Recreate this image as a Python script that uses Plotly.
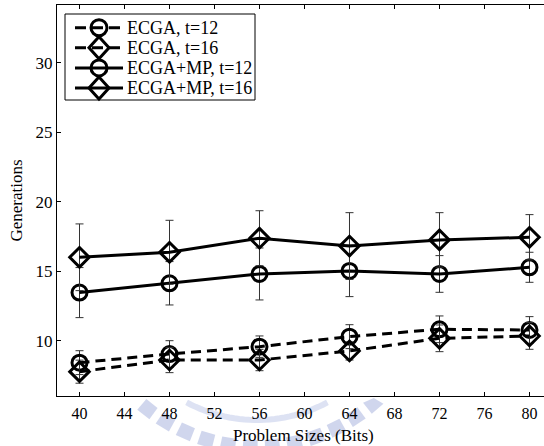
import numpy as np
import plotly.graph_objects as go

# Problem sizes (bits)
sizes = [40, 48, 56, 64, 72, 80]

# Mean generations and error half-widths per configuration
ecga_t12 = [8.44, 9.06, 9.59, 10.31, 10.84, 10.79]
ecga_t12_err = [0.86, 0.96, 0.77, 0.86, 0.96, 0.96]

ecga_t16 = [7.79, 8.63, 8.63, 9.28, 10.19, 10.36]
ecga_t16_err = [0.83, 0.91, 0.77, 0.65, 0.96, 0.96]

mp_t12 = [13.48, 14.15, 14.82, 15.04, 14.82, 15.3]
mp_t12_err = [1.8, 1.56, 1.87, 1.85, 1.32, 1.08]

mp_t16 = [16.02, 16.38, 17.39, 16.83, 17.27, 17.46]
mp_t16_err = [2.4, 2.3, 1.98, 2.4, 1.96, 1.63]

names = ["ECGA, t=12", "ECGA, t=16", "ECGA+MP, t=12", "ECGA+MP, t=16"]
xticks = [40, 44, 48, 52, 56, 60, 64, 68, 72, 76, 80]
yticks = [10, 15, 20, 25, 30]

FONT = "Liberation Serif, Times New Roman, serif"
W, H = 544, 446
ML, MR, MT, MB = 57, 0, 5, 50
PW, PH = W - ML - MR, H - MT - MB

DASH = "10px,6px"
series = [
    (ecga_t12, ecga_t12_err, DASH, "circle-open"),
    (ecga_t16, ecga_t16_err, DASH, "diamond-open"),
    (mp_t12, mp_t12_err, "solid", "circle-open"),
    (mp_t16, mp_t16_err, "solid", "diamond-open"),
]

fig = go.Figure()
for name, (vals, errs, dash, sym) in zip(names, series):
    fig.add_trace(go.Scatter(
        x=sizes, y=vals, name=name, mode="lines+markers", showlegend=False,
        line=dict(color="black", width=3, dash=dash),
        marker=dict(symbol=sym, size=15, color="black",
                    line=dict(color="black", width=3)),
        error_y=dict(type="data", array=errs, visible=True,
                     thickness=1, width=4, color="#333333"),
    ))


def to_paper(px, py):
    """Pixel position on the page -> paper coordinates of the plot area."""
    return (px - ML) / PW, (H - MB - py) / PH


def poly_path(pts, close=True):
    s = "M " + " L ".join(f"{x:.4f},{y:.4f}" for x, y in pts)
    return s + (" Z" if close else "")


shapes = []
annotations = []

# Faint crest emblem printed under the x-axis labels
cx, cy, r = 257.0, 270.0, 177.0
top = H - MB + 2
for ang in np.arange(49, 133, 7.2):
    a0, a1 = np.radians(ang - 2.4), np.radians(ang + 2.4)
    pts = [to_paper(cx + rr * np.cos(a), max(cy + rr * np.sin(a), top))
           for rr, a in ((r - 7, a0), (r + 7, a0), (r + 7, a1), (r - 7, a1))]
    shapes.append(dict(type="path", path=poly_path(pts), xref="paper",
                       yref="paper", fillcolor="rgba(150,164,215,0.45)",
                       line_width=0, layer="below"))
ri = 150.0
angs = np.radians(np.linspace(62, 118, 30))
pts = [to_paper(cx + ri * np.cos(a), max(cy + ri * np.sin(a), top)) for a in angs]
shapes.append(dict(type="path", path=poly_path(pts, close=False), xref="paper",
                   yref="paper", line=dict(color="rgba(180,190,228,0.45)", width=6),
                   layer="below"))

# Legend box drawn by hand (compact rows, long sample lines)
bx0, by0 = to_paper(65, 14)
bx1, by1 = to_paper(255, 100)
shapes.append(dict(type="rect", xref="paper", yref="paper", x0=bx0, x1=bx1,
                   y0=by1, y1=by0, fillcolor="white",
                   line=dict(color="black", width=1), layer="above"))
rows = [27.7, 47.8, 67.9, 88.0]
mx = 99.0
for name, (_, _, dash, sym), ry in zip(names, series, rows):
    lx0, ly = to_paper(75, ry)
    lx1, _ = to_paper(123, ry)
    shapes.append(dict(type="line", xref="paper", yref="paper", x0=lx0, x1=lx1,
                       y0=ly, y1=ly, line=dict(color="black", width=3,
                       dash="11px,6px" if dash != "solid" else "solid"),
                       layer="above"))
    if sym.startswith("circle"):
        cx0, cy0 = to_paper(mx - 8, ry - 8)
        cx1, cy1 = to_paper(mx + 8, ry + 8)
        shapes.append(dict(type="circle", xref="paper", yref="paper",
                           x0=cx0, x1=cx1, y0=cy1, y1=cy0,
                           line=dict(color="black", width=3), layer="above"))
    else:
        pts = [to_paper(mx, ry - 11), to_paper(mx + 10, ry),
               to_paper(mx, ry + 11), to_paper(mx - 10, ry)]
        shapes.append(dict(type="path", path=poly_path(pts), xref="paper",
                           yref="paper", line=dict(color="black", width=3),
                           layer="above"))
    tx, ty = to_paper(125, ry)
    annotations.append(dict(text=name, x=tx, y=ty, xref="paper", yref="paper",
                            xanchor="left", yanchor="middle", showarrow=False,
                            font=dict(family=FONT, size=18, color="black")))

# x-axis title
tx, ty = to_paper(303, 435)
annotations.append(dict(text="Problem Sizes (Bits)", x=tx, y=ty, xref="paper",
                        yref="paper", xanchor="center", yanchor="middle",
                        showarrow=False, font=dict(family=FONT, size=17)))

fig.update_layout(
    width=W, height=H,
    margin=dict(l=ML, r=MR, t=MT, b=MB),
    plot_bgcolor="white", paper_bgcolor="white",
    font=dict(family=FONT, size=16, color="black"),
    showlegend=False,
    shapes=shapes,
    annotations=annotations,
    xaxis=dict(
        range=[38, 81.29], tickvals=xticks, ticks="inside", ticklen=4,
        tickcolor="black", showline=True, linecolor="black", linewidth=1,
        mirror="ticks", showgrid=False, zeroline=False,
        ticklabelstandoff=3, tickfont=dict(family=FONT, size=16),
    ),
    yaxis=dict(
        range=[6.04, 34.17], tickvals=yticks, ticks="inside", ticklen=4,
        tickcolor="black", showline=True, linecolor="black", linewidth=1,
        mirror=False, showgrid=False, zeroline=False,
        tickfont=dict(family=FONT, size=17),
        title=dict(text="Generations", standoff=8,
                   font=dict(family=FONT, size=17)),
    ),
)

fig.write_html("out.html")
